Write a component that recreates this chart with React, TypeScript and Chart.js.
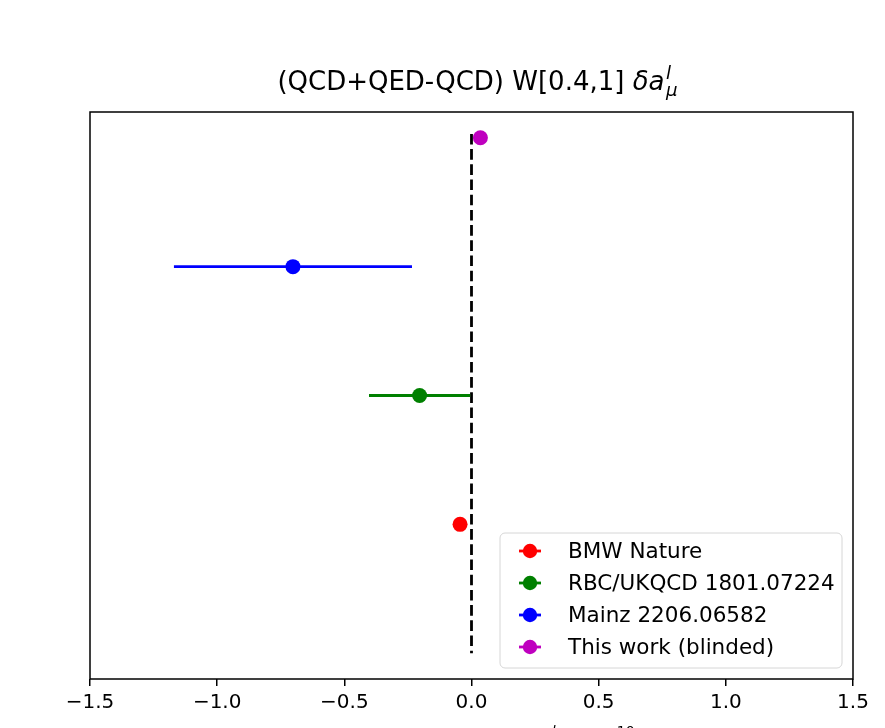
import { useEffect, useRef } from "react";
import { Chart, registerables } from "chart.js";

Chart.register(...registerables);

// Results, bottom row first
const seriesLabels = ["BMW Nature", "RBC/UKQCD 1801.07224", "Mainz 2206.06582", "This work (blinded)"];
const seriesColors = ["#ff0000", "#008000", "#0000ff", "#bf00bf"];
const rowPositions = [1, 2, 3, 4];
const centralValues = [-0.045, -0.204, -0.702, 0.035];
const errorValues = [0.02, 0.199, 0.468, 0.01];

// Reference line at zero, drawn top to bottom
const zeroLineX = [0, 0];
const zeroLineY = [4.03, 0];

const xTickValues = [-1.5, -1.0, -0.5, 0.0, 0.5, 1.0, 1.5];

const FAMILY = "'DejaVu Sans', 'Liberation Sans', sans-serif";

type Seg = { t: string; it?: boolean; sup?: string; sub?: string };

const titleSegs: Seg[] = [
  { t: "(QCD+QED-QCD) W[0.4,1] " },
  { t: "\u03b4a", it: true, sup: "l", sub: "\u03bc" },
];
const xLabelSegs: Seg[] = [
  { t: "\u03b4a", it: true, sup: "l", sub: "\u03bc" },
  { t: " \u00d7 10", sup: "10" },
];

function fontOf(size: number, italic?: boolean) {
  return `${italic ? "italic " : ""}${size}px ${FAMILY}`;
}

function segWidth(ctx: CanvasRenderingContext2D, seg: Seg, size: number) {
  ctx.font = fontOf(size, seg.it);
  let w = ctx.measureText(seg.t).width;
  if (seg.sup || seg.sub) {
    ctx.font = fontOf(size * 0.7, seg.it);
    const a = seg.sup ? ctx.measureText(seg.sup).width : 0;
    const b = seg.sub ? ctx.measureText(seg.sub).width : 0;
    w += Math.max(a, b) + size * 0.06;
  }
  return w;
}

function drawSegs(
  ctx: CanvasRenderingContext2D,
  segs: Seg[],
  x: number,
  baseline: number,
  size: number,
  align: "center" | "left"
) {
  const total = segs.reduce((s, g) => s + segWidth(ctx, g, size), 0);
  let cx = align === "center" ? x - total / 2 : x;
  ctx.save();
  ctx.fillStyle = "#000";
  ctx.textAlign = "left";
  ctx.textBaseline = "alphabetic";
  for (const seg of segs) {
    ctx.font = fontOf(size, seg.it);
    ctx.fillText(seg.t, cx, baseline);
    cx += ctx.measureText(seg.t).width;
    if (seg.sup || seg.sub) {
      const sx = cx + size * 0.06;
      ctx.font = fontOf(size * 0.7, seg.it);
      let w = 0;
      if (seg.sup) {
        ctx.fillText(seg.sup, sx, baseline - size * 0.42);
        w = Math.max(w, ctx.measureText(seg.sup).width);
      }
      if (seg.sub) {
        ctx.fillText(seg.sub, sx, baseline + size * 0.24);
        w = Math.max(w, ctx.measureText(seg.sub).width);
      }
      cx = sx + w;
    }
  }
  ctx.restore();
}

// Axes frame, title, axis label and legend
const decorations = {
  id: "decorations",
  afterDatasetsDraw(chart: Chart) {
    const { ctx, chartArea } = chart;
    const { left, top, right, bottom } = chartArea;
    ctx.save();
    ctx.strokeStyle = "#000";
    ctx.lineWidth = 1.5;
    ctx.strokeRect(left, top, right - left, bottom - top);
    ctx.restore();
  },
  afterDraw(chart: Chart) {
    const { ctx, chartArea } = chart;
    const { left, right } = chartArea;
    const mid = (left + right) / 2;

    drawSegs(ctx, titleSegs, mid + 6, 90, 26, "center");
    drawSegs(ctx, xLabelSegs, 526, 744, 20, "left");

    // legend box
    const bx = 500, by = 533, bw = 342, bh = 135, r = 5;
    ctx.save();
    ctx.beginPath();
    ctx.moveTo(bx + r, by);
    ctx.arcTo(bx + bw, by, bx + bw, by + bh, r);
    ctx.arcTo(bx + bw, by + bh, bx, by + bh, r);
    ctx.arcTo(bx, by + bh, bx, by, r);
    ctx.arcTo(bx, by, bx + bw, by, r);
    ctx.closePath();
    ctx.fillStyle = "rgba(255,255,255,0.8)";
    ctx.fill();
    ctx.strokeStyle = "#d6d6d6";
    ctx.lineWidth = 1;
    ctx.stroke();

    ctx.font = fontOf(21.5);
    ctx.textBaseline = "middle";
    ctx.textAlign = "left";
    seriesLabels.forEach((label, i) => {
      const y = by + 18 + i * 32;
      const color = seriesColors[i];
      ctx.strokeStyle = color;
      ctx.lineWidth = 2.8;
      ctx.beginPath();
      ctx.moveTo(519, y);
      ctx.lineTo(541, y);
      ctx.stroke();
      ctx.fillStyle = color;
      ctx.beginPath();
      ctx.arc(530, y, 7.2, 0, Math.PI * 2);
      ctx.fill();
      ctx.fillStyle = "#000";
      ctx.fillText(label, 568, y + 1);
    });
    ctx.restore();
  },
};

export default function App() {
  const canvasRef = useRef<HTMLCanvasElement | null>(null);

  useEffect(() => {
    const canvas = canvasRef.current;
    if (!canvas) return;

    const datasets: any[] = [
      {
        label: "zero",
        data: zeroLineX.map((x, i) => ({ x, y: zeroLineY[i] })),
        showLine: true,
        borderColor: "#000",
        borderWidth: 2.8,
        borderDash: [10.6, 4.6],
        pointRadius: 0,
        order: 3,
      },
    ];
    seriesLabels.forEach((label, i) => {
      datasets.push({
        label: label + " err",
        data: [
          { x: centralValues[i] - errorValues[i], y: rowPositions[i] },
          { x: centralValues[i] + errorValues[i], y: rowPositions[i] },
        ],
        showLine: true,
        borderColor: seriesColors[i],
        borderWidth: 2.8,
        pointRadius: 0,
        order: 2,
      });
      datasets.push({
        label,
        data: [{ x: centralValues[i], y: rowPositions[i] }],
        backgroundColor: seriesColors[i],
        borderWidth: 0,
        pointRadius: 7.5,
        order: 1,
      });
    });

    const chart = new Chart(canvas, {
      type: "scatter",
      data: { datasets },
      options: {
        responsive: false,
        animation: false,
        layout: { padding: { left: 90, right: 32, top: 112, bottom: 0 } },
        plugins: { legend: { display: false }, tooltip: { enabled: false }, title: { display: false } },
        scales: {
          x: {
            type: "linear",
            min: -1.5,
            max: 1.5,
            afterBuildTicks: (scale: any) => {
              scale.ticks = xTickValues.map((v) => ({ value: v }));
            },
            afterFit: (scale: any) => {
              scale.height = 49;
            },
            border: { display: false },
            grid: {
              drawOnChartArea: false,
              drawTicks: true,
              tickLength: 7,
              color: "#000",
              lineWidth: 1.5,
            },
            ticks: {
              autoSkip: false,
              maxRotation: 0,
              color: "#000",
              padding: 5,
              font: { family: FAMILY, size: 20 },
              callback: (v: any) => {
                const n = Number(v);
                return (n < 0 ? "\u2212" : "") + Math.abs(n).toFixed(1);
              },
            },
          },
          y: {
            type: "linear",
            min: -0.2,
            max: 4.2,
            display: false,
          },
        },
      },
      plugins: [decorations],
    });

    return () => chart.destroy();
  }, []);

  return (
    <canvas
      ref={canvasRef}
      width={885}
      height={728}
      style={{ position: "fixed", left: 0, top: 0, display: "block", background: "#fff" }}
    />
  );
}
